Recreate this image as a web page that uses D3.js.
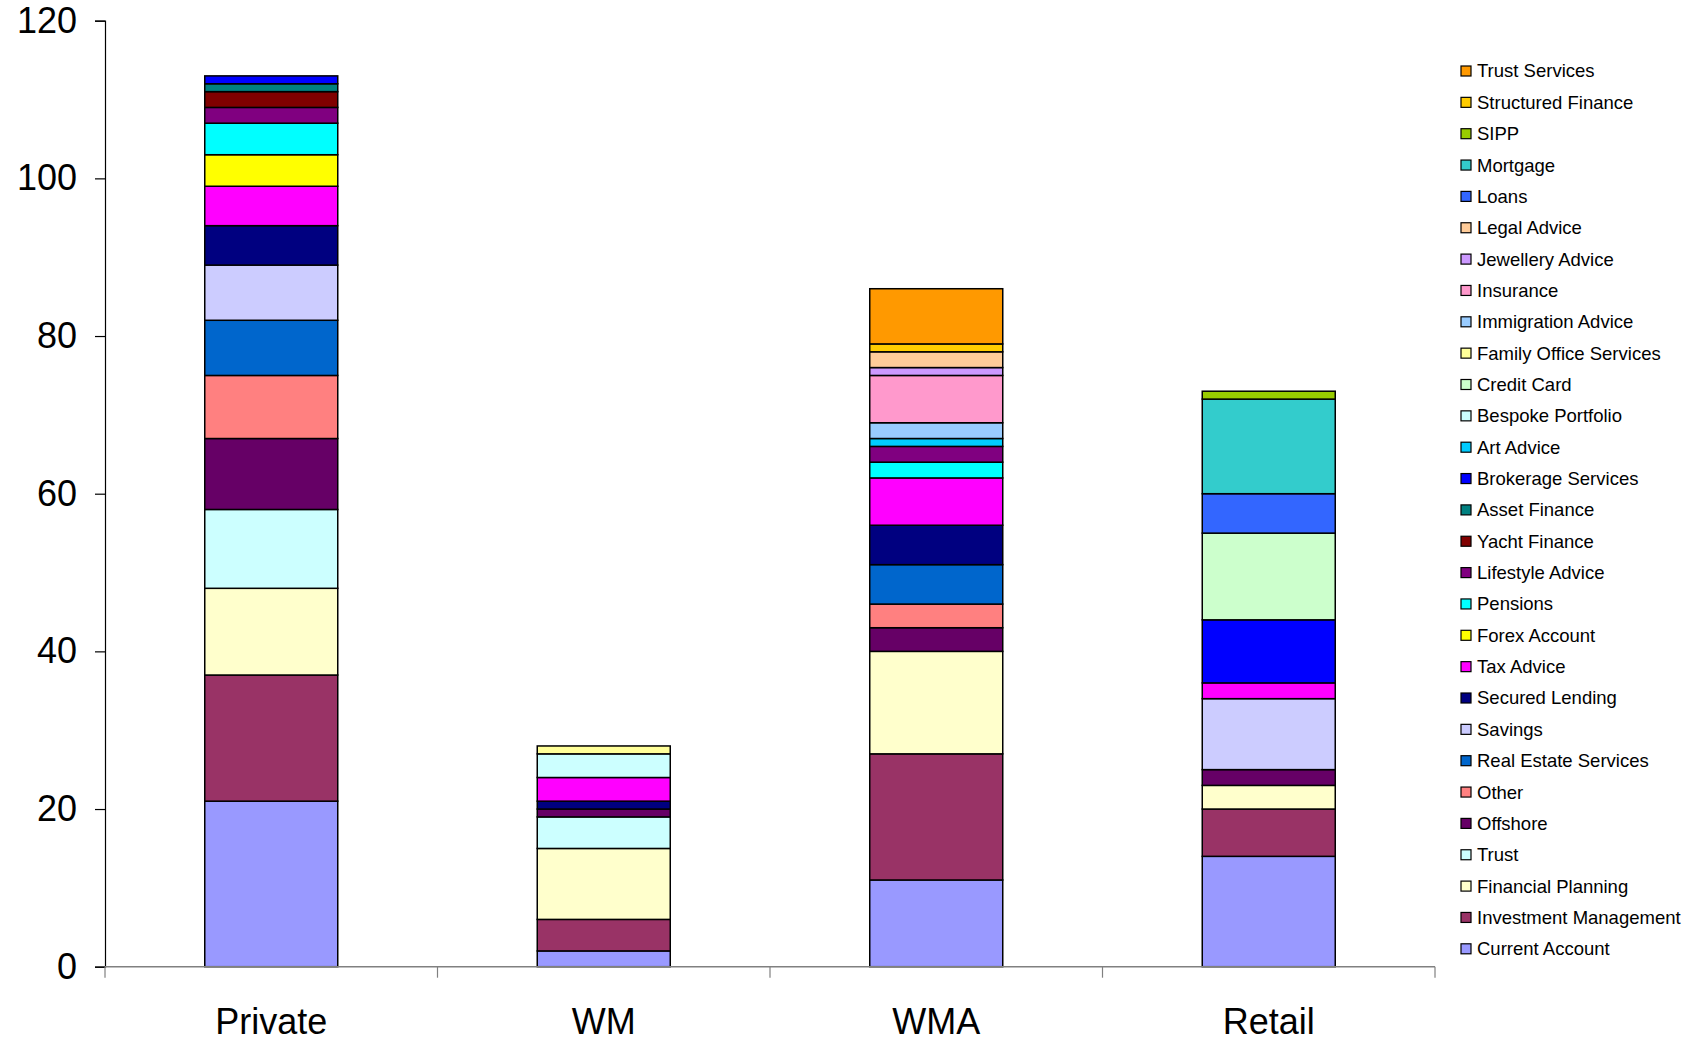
<!DOCTYPE html>
<html>
<head>
<meta charset="utf-8">
<script src="https://cdn.jsdelivr.net/npm/d3@7"></script>
<style>
  html, body { margin: 0; padding: 0; background: #fff; }
  svg { display: block; }
  text { font-family: "Liberation Sans", Arial, sans-serif; fill: #000; }
</style>
</head>
<body>
<svg id="chart" width="1689" height="1043"></svg>
<script>
// Client segments along the x axis
const categories = ["Private", "WM", "WMA", "Retail"];

// Products in stacking order (bottom to top)
const seriesNames = [
  "Current Account", "Investment Management", "Financial Planning", "Trust",
  "Offshore", "Other", "Real Estate Services", "Savings", "Secured Lending",
  "Tax Advice", "Forex Account", "Pensions", "Lifestyle Advice", "Yacht Finance",
  "Asset Finance", "Brokerage Services", "Art Advice", "Bespoke Portfolio",
  "Credit Card", "Family Office Services", "Immigration Advice", "Insurance",
  "Jewellery Advice", "Legal Advice", "Loans", "Mortgage", "SIPP",
  "Structured Finance", "Trust Services"
];

const seriesColors = [
  "#9999FF", "#993366", "#FFFFCC", "#CCFFFF",
  "#660066", "#FF8080", "#0066CC", "#CCCCFF", "#000080",
  "#FF00FF", "#FFFF00", "#00FFFF", "#800080", "#800000",
  "#008080", "#0000FF", "#00CCFF", "#CCFFFF",
  "#CCFFCC", "#FFFF99", "#99CCFF", "#FF99CC",
  "#CC99FF", "#FFCC99", "#3366FF", "#33CCCC", "#99CC00",
  "#FFCC00", "#FF9900"
];

// Counts per product, same order as seriesNames
const privateValues = [21, 16, 11, 10, 9, 8, 7, 7, 5, 5, 4, 4, 2, 2, 1, 1, 0, 0, 0, 0, 0, 0, 0, 0, 0, 0, 0, 0, 0];
const wmValues      = [2, 4, 9, 4, 1, 0, 0, 0, 1, 3, 0, 0, 0, 0, 0, 0, 0, 3, 0, 1, 0, 0, 0, 0, 0, 0, 0, 0, 0];
const wmaValues     = [11, 16, 13, 0, 3, 3, 5, 0, 5, 6, 0, 2, 2, 0, 0, 0, 1, 0, 0, 0, 2, 6, 1, 2, 0, 0, 0, 1, 7];
const retailValues  = [14, 6, 3, 0, 2, 0, 0, 9, 0, 2, 0, 0, 0, 0, 0, 8, 0, 0, 11, 0, 0, 0, 0, 0, 5, 12, 1, 0, 0];

const yTicks = [0, 20, 40, 60, 80, 100, 120];

const valuesByCategory = [privateValues, wmValues, wmaValues, retailValues];

// Build rows for d3.stack: one row per category, one key per product
const rows = categories.map((c, i) => {
  const row = { category: c };
  seriesNames.forEach((s, j) => { row[s] = valuesByCategory[i][j]; });
  return row;
});

const svg = d3.select("#chart");

const plot = { left: 105, right: 1435, top: 20.7, bottom: 966.7 };

const x = d3.scaleBand()
  .domain(categories)
  .range([plot.left, plot.right])
  .paddingInner(0.6)
  .paddingOuter(0.3);

const y = d3.scaleLinear()
  .domain([0, 120])
  .range([plot.bottom, plot.top]);

const color = d3.scaleOrdinal().domain(seriesNames).range(seriesColors);

const stacked = d3.stack().keys(seriesNames)(rows);

// Stacked bars
const layers = svg.append("g").selectAll("g")
  .data(stacked)
  .join("g")
  .attr("fill", d => color(d.key));

layers.selectAll("rect")
  .data(d => d.filter(p => p[1] - p[0] > 0))
  .join("rect")
  .attr("x", p => x(p.data.category))
  .attr("width", x.bandwidth())
  .attr("y", p => y(p[1]))
  .attr("height", p => y(p[0]) - y(p[1]))
  .attr("stroke", "#000")
  .attr("stroke-width", 1.5);

// Y axis
const yAxis = svg.append("g")
  .attr("transform", `translate(${plot.left},0)`)
  .call(d3.axisLeft(y).tickValues(yTicks).tickSize(10).tickPadding(18).tickFormat(d3.format("d")));
yAxis.select(".domain").attr("stroke", "#000").attr("stroke-width", 1.2);
yAxis.selectAll(".tick line").attr("stroke", "#000").attr("stroke-width", 1.2);
yAxis.selectAll(".tick text")
  .style("font-size", "36px")
  .style("font-family", "'Liberation Sans', Arial, sans-serif")
  .attr("fill", "#000");

// X axis line with ticks between categories
const xAxisG = svg.append("g");
xAxisG.append("line")
  .attr("x1", plot.left).attr("x2", plot.right)
  .attr("y1", y(0)).attr("y2", y(0))
  .attr("stroke", "#808080").attr("stroke-width", 1.5);

const step = x.step();
const boundaries = d3.range(categories.length + 1).map(i => plot.left + i * step);
xAxisG.selectAll("line.tick")
  .data(boundaries)
  .join("line")
  .attr("class", "tick")
  .attr("x1", d => d).attr("x2", d => d)
  .attr("y1", y(0)).attr("y2", y(0) + 11)
  .attr("stroke", "#808080").attr("stroke-width", 1.2);

xAxisG.selectAll("text")
  .data(categories)
  .join("text")
  .attr("x", d => x(d) + x.bandwidth() / 2)
  .attr("y", 1034)
  .attr("text-anchor", "middle")
  .style("font-size", "36px")
  .text(d => d);

// Legend, top entry is the top of the stack
const legendOrder = seriesNames.slice().reverse();
const legend = svg.append("g").attr("transform", "translate(1461,71)");
const legendItems = legend.selectAll("g")
  .data(legendOrder)
  .join("g")
  .attr("transform", (d, i) => `translate(0,${i * 31.35})`);

legendItems.append("rect")
  .attr("x", 0).attr("y", -5)
  .attr("width", 10).attr("height", 10)
  .attr("fill", d => color(d))
  .attr("stroke", "#000").attr("stroke-width", 1.2);

legendItems.append("text")
  .attr("x", 16)
  .attr("y", 0)
  .attr("dy", "0.35em")
  .style("font-size", "18.5px")
  .text(d => d);
</script>
</body>
</html>
